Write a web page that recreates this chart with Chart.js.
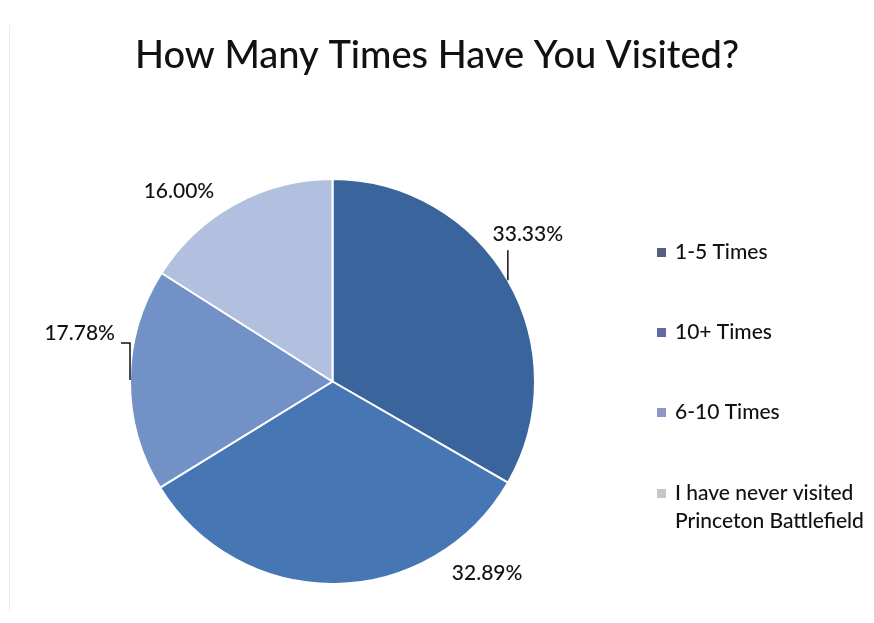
<!DOCTYPE html>
<html>
<head>
<meta charset="utf-8">
<script src="https://cdn.jsdelivr.net/npm/chart.js@4/dist/chart.umd.min.js"></script>
<style>
    html, body { margin: 0; padding: 0; background: #ffffff; }
    #wrap { width: 874px; height: 623px; position: relative; }
</style>
</head>
<body>
<div id="wrap"><canvas id="visitsChart" width="874" height="623"></canvas></div>
<script>
    const categories = ["1-5 Times", "10+ Times", "6-10 Times", "I have never visited Princeton Battlefield"];
    const percentages = [33.33, 32.89, 17.78, 16.00];
    const sliceColors = ['#3a659c', '#4676b4', '#7191c7', '#b1c0de'];
    const legendColors = ['#575e80', '#6169a2', '#9096c8', '#c5c6ca'];

    const fontFamily = "Lato, 'Noto Sans', sans-serif";

    // how each percentage label sits relative to its slice edge
    // (anchor is the slice's mid angle unless an angle in degrees is given)
    const labelStyle = [
        {leader: [[0, 0], [0, -30]], text: [20, -46], align: 'center'},
        {leader: null, text: [30, 32], align: 'center', angle: 52},
        {leader: [[0, 0], [0, -37], [-9, -37]], text: [-15, -47], align: 'right'},
        {leader: null, text: [-56, -13], align: 'center'}
    ];

    const titlePlugin = {
        id: 'pageTitle',
        afterDraw: function(chart){
            const ctx = chart.ctx;
            ctx.save();
            // thin rule down the left side
            ctx.strokeStyle = '#ececec';
            ctx.lineWidth = 1;
            ctx.beginPath();
            ctx.moveTo(9.5, 25);
            ctx.lineTo(9.5, 610);
            ctx.stroke();

            ctx.fillStyle = '#111111';
            ctx.font = "500 38px " + fontFamily;
            ctx.textAlign = 'center';
            ctx.textBaseline = 'middle';
            ctx.fillText("How Many Times Have You Visited?", 437, 56);
            ctx.restore();
        }
    };

    const sliceLabels = {
        id: 'sliceLabels',
        afterDraw: function(chart){
            const ctx = chart.ctx;
            const arcs = chart.getDatasetMeta(0).data;
            ctx.save();
            ctx.font = "500 21px " + fontFamily;
            ctx.fillStyle = '#111111';
            ctx.strokeStyle = '#111111';
            ctx.lineWidth = 1.5;
            ctx.textBaseline = 'middle';
            arcs.forEach(function(arc, i){
                const p = arc.getProps(['x', 'y', 'startAngle', 'endAngle', 'outerRadius'], true);
                const style = labelStyle[i];
                let mid = (p.startAngle + p.endAngle) / 2;
                if(style.angle !== undefined){
                    mid = style.angle * Math.PI / 180;
                }
                const ax = p.x + Math.cos(mid) * p.outerRadius;
                const ay = p.y + Math.sin(mid) * p.outerRadius;
                if(style.leader){
                    ctx.beginPath();
                    style.leader.forEach(function(pt, k){
                        if(k === 0){ ctx.moveTo(ax + pt[0], ay + pt[1]); }
                        else { ctx.lineTo(ax + pt[0], ay + pt[1]); }
                    });
                    ctx.stroke();
                }
                ctx.textAlign = style.align;
                ctx.fillText(percentages[i].toFixed(2) + '%', ax + style.text[0], ay + style.text[1]);
            });
            ctx.restore();
        }
    };

    const sideLegend = {
        id: 'sideLegend',
        afterDraw: function(chart){
            const ctx = chart.ctx;
            const rows = [252, 332, 412, 493];
            ctx.save();
            ctx.font = "500 21px " + fontFamily;
            ctx.textBaseline = 'middle';
            ctx.textAlign = 'left';
            categories.forEach(function(name, i){
                ctx.fillStyle = legendColors[i];
                ctx.fillRect(657, rows[i] - 4, 9, 9);
                ctx.fillStyle = '#111111';
                if(i === 3){
                    ctx.fillText("I have never visited", 675, rows[i]);
                    ctx.fillText("Princeton Battlefield", 675, rows[i] + 28);
                } else {
                    ctx.fillText(name, 675, rows[i]);
                }
            });
            ctx.restore();
        }
    };

    new Chart(document.getElementById('visitsChart'), {
        type: 'pie',
        data: {
            labels: categories,
            datasets: [{
                data: percentages,
                backgroundColor: sliceColors,
                borderColor: '#ffffff',
                borderWidth: 2
            }]
        },
        options: {
            responsive: false,
            animation: false,
            layout: {
                padding: {top: 178, bottom: 38, left: 128, right: 337}
            },
            plugins: {
                legend: {display: false},
                tooltip: {enabled: false},
                title: {display: false}
            }
        },
        plugins: [titlePlugin, sliceLabels, sideLegend]
    });
</script>
</body>
</html>
